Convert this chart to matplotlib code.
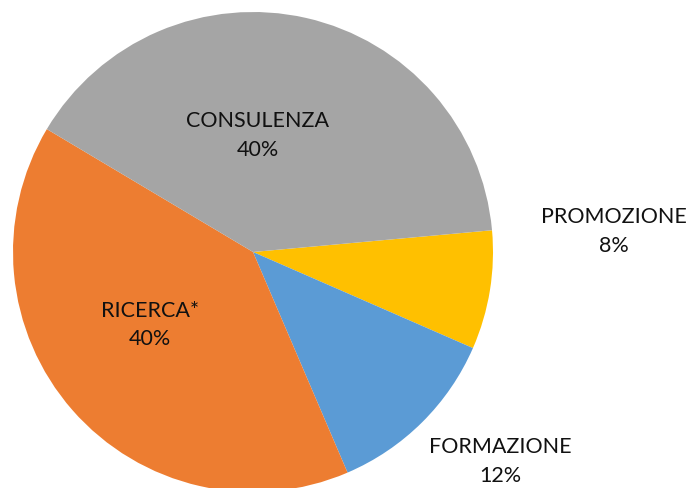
import matplotlib.pyplot as plt

categories = ["PROMOZIONE", "FORMAZIONE", "RICERCA*", "CONSULENZA"]
values = [8, 12, 40, 40]
colors = ["#FFC000", "#5B9BD5", "#ED7D31", "#A5A5A5"]
# label anchors in pie data units (radius = 1)
label_pos = [(1.505, 0.09), (1.03, -0.87), (-0.43, -0.30), (0.02, 0.49)]

plt.rcParams["font.family"] = ["Lato", "DejaVu Sans"]

fig = plt.figure(figsize=(6.93, 4.89), dpi=100)
W, H = 693, 489
cx, cy, r = 253, 253, 240
ax = fig.add_axes([(cx - r) / W, (H - cy - r) / H, 2 * r / W, 2 * r / H])

ax.pie(values, colors=colors, startangle=5.2, counterclock=False,
       radius=1, center=(0, 0), wedgeprops=dict(linewidth=0))
total = sum(values)
for cat, v, (x, y) in zip(categories, values, label_pos):
    ax.text(x, y, f"{cat}\n{v / total * 100:.0f}%", ha="center", va="center",
            fontsize=15.5, color="#111111", linespacing=1.55)

ax.set_xlim(-1, 1)
ax.set_ylim(-1, 1)
ax.set_aspect("auto")
ax.axis("off")
ax.set_clip_on(False)

fig.savefig("out.png", dpi=100, facecolor="white")
